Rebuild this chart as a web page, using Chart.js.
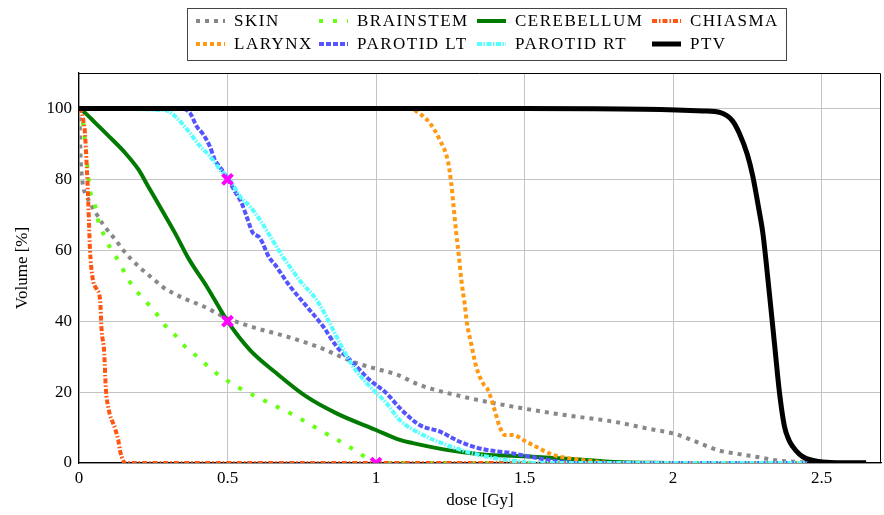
<!DOCTYPE html>
<html>
<head>
<meta charset="utf-8">
<script src="https://cdn.jsdelivr.net/npm/chart.js@4.4.1/dist/chart.umd.min.js"></script>
<style>
  html, body { margin: 0; padding: 0; background: #fff; }
  #wrap { width: 884px; height: 515px; position: relative; }
</style>
</head>
<body>
<div id="wrap"><canvas id="dvh"></canvas></div>
<script>
// DVH curves, dose in Gy, volume in %
var skinDose = [0, 0.002, 0.004, 0.006, 0.009, 0.014, 0.026, 0.06, 0.082, 0.127, 0.149, 0.2, 0.256, 0.284, 0.317, 0.351, 0.418, 0.497, 0.598, 0.698, 0.8, 0.934, 1.012, 1.068, 1.147, 1.293, 1.461, 1.629, 1.797, 1.909, 2.01, 2.077, 2.156, 2.223, 2.29, 2.358, 2.425, 2.45]
var skinVol = [100, 97, 90, 84.7, 81.4, 78, 75.2, 70.1, 67.2, 62.5, 60, 55.5, 51.5, 49.5, 47.9, 46.5, 44.2, 40.9, 38, 35.7, 32.9, 28.2, 26.3, 25, 22, 18.7, 15.9, 13.6, 11.7, 9.8, 8.1, 6, 3.5, 2.5, 1.6, 0.6, 0.3, 0]

var brainstemDose = [0, 0.006, 0.014, 0.026, 0.037, 0.054, 0.065, 0.085, 0.108, 0.136, 0.16, 0.188, 0.222, 0.256, 0.284, 0.317, 0.351, 0.384, 0.463, 0.541, 0.631, 0.721, 0.811, 0.889, 0.945, 0.979, 1.0, 2.45]
var brainstemVol = [100, 98, 95.5, 85.6, 77.1, 72.6, 68.2, 64.1, 60.2, 56.6, 52.6, 49.1, 45.8, 42.7, 39.3, 36.7, 33.3, 31, 25.3, 21.1, 17.3, 13.6, 9.3, 5.6, 2.7, 0.8, 0, 0]

var cerebellumDose = [0, 0.02, 0.054, 0.1, 0.155, 0.2, 0.233, 0.278, 0.323, 0.37, 0.43, 0.5, 0.575, 0.665, 0.766, 0.867, 1.0, 1.08, 1.124, 1.237, 1.349, 1.517, 1.685, 1.8, 2.0]
var cerebellumVol = [100, 98.8, 96, 92.2, 87.5, 82.8, 78, 71.5, 64.9, 57.5, 49.8, 40, 31.9, 25.3, 18.7, 14, 9.3, 6.5, 5.6, 3.7, 2.5, 1.8, 1.0, 0.3, 0]

var chiasmaDose = [0, 0.008, 0.014, 0.02, 0.026, 0.031, 0.034, 0.037, 0.045, 0.06, 0.071, 0.076, 0.085, 0.09, 0.099, 0.121, 0.132, 0.138, 0.149, 0.155, 2.45]
var chiasmaVol = [100, 99, 96.9, 93.1, 83.7, 74.3, 66.8, 60.2, 52.6, 48.9, 46, 37.6, 31, 21.5, 15.5, 9.8, 6.5, 3.5, 0.6, 0, 0]

var larynxDose = [0, 1.12, 1.136, 1.18, 1.214, 1.242, 1.253, 1.261, 1.27, 1.279, 1.287, 1.298, 1.306, 1.32, 1.337, 1.36, 1.377, 1.399, 1.416, 1.433, 1.461, 1.506, 1.539, 1.595, 1.652, 1.708, 1.8, 2.45]
var larynxVol = [100, 100, 99.2, 96, 91.2, 85.1, 79, 72.4, 64.9, 58.3, 51.7, 45.1, 39.5, 33.8, 27.2, 22.5, 20.6, 15, 10.3, 7.9, 7.9, 6, 4.6, 2.3, 1.3, 0.7, 0, 0]

var parotidLtDose = [0, 0.34, 0.373, 0.396, 0.418, 0.44, 0.457, 0.48, 0.502, 0.525, 0.547, 0.564, 0.584, 0.609, 0.64, 0.66, 0.709, 0.766, 0.822, 0.867, 0.923, 0.979, 1.035, 1.08, 1.147, 1.214, 1.282, 1.349, 1.461, 1.517, 1.6, 1.7, 2.45]
var parotidLtVol = [100, 100, 98.8, 95, 92.7, 89.4, 85.6, 82.8, 79.9, 76.6, 73.4, 69.6, 65.1, 63.5, 58, 55.9, 50, 44.2, 38.5, 32.9, 28.2, 23.4, 19.7, 15.5, 10.7, 8.9, 6, 4.1, 2.7, 1.8, 0.6, 0, 0]

var parotidRtDose = [0, 0.29, 0.34, 0.373, 0.407, 0.44, 0.474, 0.508, 0.542, 0.575, 0.609, 0.642, 0.68, 0.709, 0.743, 0.8, 0.844, 0.878, 0.923, 0.979, 1.035, 1.08, 1.147, 1.237, 1.326, 1.405, 1.483, 1.55, 2.45]
var parotidRtVol = [100, 99.5, 96.4, 93.1, 89.4, 86.6, 82.8, 79.9, 75.2, 72.4, 68.6, 64.2, 59, 55.5, 51.5, 46, 39.5, 33.8, 27.2, 21.6, 16.9, 12.1, 8.4, 5.1, 2.7, 1.3, 0.4, 0, 0]

var ptvDose = [0, 1.5, 1.9, 2.1, 2.16, 2.2, 2.223, 2.25, 2.268, 2.29, 2.302, 2.324, 2.341, 2.358, 2.375, 2.39, 2.403, 2.425, 2.447, 2.49, 2.55, 2.65]
var ptvVol = [100, 100, 99.8, 99.3, 98.8, 96.5, 93, 87, 81, 71, 65, 48, 34, 20, 10.3, 6.5, 4.6, 2.5, 1.3, 0.4, 0.1, 0.1]

var markerDose = [0.5, 0.5, 1]
var markerVol = [80, 40, 0]

var organs = ['SKIN', 'BRAINSTEM', 'CEREBELLUM', 'CHIASMA', 'LARYNX', 'PAROTID LT', 'PAROTID RT', 'PTV']
var doseTicks = [0, 0.5, 1, 1.5, 2, 2.5]
var volTicks = [0, 20, 40, 60, 80, 100]

function pts(xs, ys) {
    var out = []
    for (var i = 0; i < xs.length; i++) out.push({ x: xs[i], y: ys[i] })
    return out
}

var styles = [
    { color: '#888888', width: 4, dash: [4, 5] },
    { color: '#66ff11', width: 4, dash: [4, 10] },
    { color: '#007a00', width: 4, dash: [] },
    { color: '#ff5511', width: 4, dash: [5, 2, 1.5, 2] },
    { color: '#ff9911', width: 4, dash: [4, 3] },
    { color: '#5555ff', width: 4, dash: [5, 2] },
    { color: '#55ffff', width: 4, dash: [5, 1.5, 1.5, 1.5] },
    { color: '#000000', width: 5, dash: [] },
]

var series = [
    pts(skinDose, skinVol),
    pts(brainstemDose, brainstemVol),
    pts(cerebellumDose, cerebellumVol),
    pts(chiasmaDose, chiasmaVol),
    pts(larynxDose, larynxVol),
    pts(parotidLtDose, parotidLtVol),
    pts(parotidRtDose, parotidRtVol),
    pts(ptvDose, ptvVol),
]

var datasets = series.map(function (d, i) {
    return {
        label: organs[i],
        data: d,
        borderColor: styles[i].color,
        backgroundColor: styles[i].color,
        borderWidth: styles[i].width,
        borderDash: styles[i].dash,
        pointRadius: 0,
        cubicInterpolationMode: 'monotone',
        fill: false,
        order: 20 - i,   // later curves on top, like the original
    }
})

datasets.push({
    label: 'marks',
    data: pts(markerDose, markerVol),
    showLine: false,
    pointStyle: 'crossRot',
    pointRadius: 7,
    pointBorderWidth: 4,
    pointBorderColor: '#ff00ff',
    pointBackgroundColor: '#ff00ff',
    order: 0,
})

var serif = '"Liberation Serif", "DejaVu Serif", serif'

// framed two-row legend + top/right frame of the plot
var boxLegend = {
    id: 'boxLegend',
    afterDraw: function (chart) {
        var ctx = chart.ctx
        var a = chart.chartArea
        ctx.save()
        ctx.strokeStyle = '#000'
        ctx.lineWidth = 1
        ctx.beginPath()
        ctx.moveTo(a.left, a.top + 0.5)
        ctx.lineTo(a.right - 0.5, a.top + 0.5)
        ctx.lineTo(a.right - 0.5, a.bottom)
        ctx.stroke()

        ctx.strokeStyle = '#444'
        ctx.strokeRect(187.5, 8.5, 599, 52)

        var colX = [196, 319, 477, 652]
        var rowY = [21, 44]
        ctx.font = '17px ' + serif
        ctx.textBaseline = 'middle'
        ctx.letterSpacing = '1.5px'
        for (var i = 0; i < organs.length; i++) {
            var x = colX[i % 4], y = rowY[Math.floor(i / 4)]
            ctx.strokeStyle = styles[i].color
            ctx.lineWidth = styles[i].width
            ctx.setLineDash(styles[i].dash)
            ctx.beginPath()
            ctx.moveTo(x, y)
            ctx.lineTo(x + 29, y)
            ctx.stroke()
            ctx.setLineDash([])
            ctx.fillStyle = '#000'
            ctx.fillText(organs[i], x + 38, y + 1)
        }
        ctx.restore()
    }
}

new Chart(document.getElementById('dvh'), {
    type: 'line',
    data: { datasets: datasets },
    plugins: [boxLegend],
    options: {
        responsive: true,
        maintainAspectRatio: false,
        animation: false,
        layout: { autoPadding: false, padding: { top: 73, left: 0, right: 3, bottom: 0 } },
        plugins: {
            legend: { display: false },
            tooltip: { enabled: false },
        },
        scales: {
            x: {
                type: 'linear',
                min: 0,
                max: 2.7,
                afterFit: function (s) { s.height = 52 },
                afterBuildTicks: function (s) { s.ticks = doseTicks.map(function (v) { return { value: v } }) },
                grid: { color: '#c4c4c4', lineWidth: 1, drawTicks: false },
                border: { color: '#000', width: 1.2 },
                ticks: {
                    color: '#000', font: { family: serif, size: 17 }, padding: 5, maxRotation: 0,
                    callback: function (v) { return String(v) },
                },
                title: { display: true, text: 'dose [Gy]', color: '#000', font: { family: serif, size: 17 }, padding: { top: 4, bottom: 4 } },
            },
            y: {
                min: 0,
                max: 110,
                afterFit: function (s) { s.width = 79 },
                afterBuildTicks: function (s) { s.ticks = volTicks.map(function (v) { return { value: v } }) },
                grid: { color: '#c4c4c4', lineWidth: 1, drawTicks: false },
                border: { color: '#000', width: 1.2 },
                ticks: {
                    color: '#000', font: { family: serif, size: 17 }, padding: 7,
                    callback: function (v) { return String(v) },
                },
                title: { display: true, text: 'Volume [%]', color: '#000', font: { family: serif, size: 17 }, padding: { top: 12, bottom: 12 } },
            },
        },
    },
})
</script>
</body>
</html>
